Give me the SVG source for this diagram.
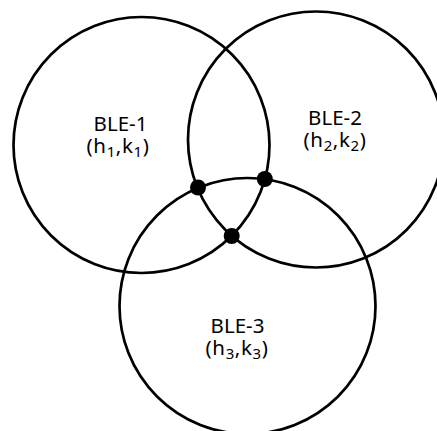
<svg xmlns="http://www.w3.org/2000/svg" width="437" height="431" viewBox="0 0 437 431">
<style>
.ring{fill:none;stroke:#000;stroke-width:2.7}
.dot{fill:#000}
text{font-family:"Noto Sans","DejaVu Sans",sans-serif;font-size:20.5px;fill:#000;text-anchor:middle}
.sub{font-size:15px}
</style>
<rect width="437" height="431" fill="#fff"/>
<g id="ble1">
<circle class="ring" cx="141.5" cy="145" r="128"/>
<text><tspan x="120.5" y="130.5">BLE-1</tspan><tspan x="118" y="153" letter-spacing="0.6">(h<tspan class="sub" dy="4">1</tspan><tspan dy="-4">,k</tspan><tspan class="sub" dy="4">1</tspan><tspan dy="-4">)</tspan></tspan></text>
</g>
<g id="ble2">
<circle class="ring" cx="316" cy="139.5" r="128"/>
<text><tspan x="335" y="124.5">BLE-2</tspan><tspan x="335" y="147" letter-spacing="0.6">(h<tspan class="sub" dy="4">2</tspan><tspan dy="-4">,k</tspan><tspan class="sub" dy="4">2</tspan><tspan dy="-4">)</tspan></tspan></text>
</g>
<g id="ble3">
<circle class="ring" cx="247.5" cy="306" r="128"/>
<text><tspan x="237.5" y="332.5">BLE-3</tspan><tspan x="237" y="355" letter-spacing="0.6">(h<tspan class="sub" dy="4">3</tspan><tspan dy="-4">,k</tspan><tspan class="sub" dy="4">3</tspan><tspan dy="-4">)</tspan></tspan></text>
</g>
<g id="intersections">
<circle class="dot" cx="198" cy="187.5" r="8"/>
<circle class="dot" cx="264.8" cy="179" r="8"/>
<circle class="dot" cx="231.7" cy="236" r="8"/>
</g>
</svg>
